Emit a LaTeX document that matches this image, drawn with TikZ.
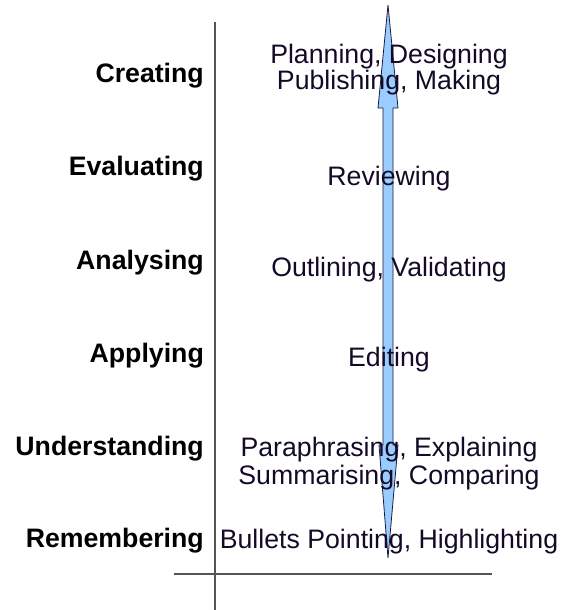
\documentclass[tikz,border=0pt]{standalone}
\usepackage{fontspec}
\setmainfont{Liberation Sans}
\definecolor{arrowfill}{HTML}{99CCFF}
\definecolor{arrowline}{HTML}{1A1A40}
\definecolor{axisline}{HTML}{555555}
\definecolor{txt}{HTML}{140A28}
\begin{document}
\begin{tikzpicture}[x=1pt,y=-1pt,
  level/.style={anchor=base east,inner sep=0pt,font=\fontsize{26.7pt}{26pt}\selectfont\bfseries,text=black},
  act/.style={anchor=base,inner sep=0pt,font=\fontsize{26.7pt}{26pt}\selectfont,text=txt},
  axis/.style={draw=axisline,line width=1.3pt}]
\useasboundingbox (0,0) rectangle (571,610);
% axes
\coordinate (vtop) at (215,22);
\coordinate (vbot) at (215,610);
\coordinate (hl) at (174,574);
\coordinate (hr) at (492,574);
\draw[axis] (vtop) -- (vbot);
\draw[axis] (hl) -- (hr);
% double arrow
\coordinate (ttip) at (388,5);
\coordinate (btip) at (388,558);
\draw[fill=arrowfill,draw=arrowline,line width=0.8pt,line join=miter]
  (ttip) -- (398,108) -- (393,108) -- (393,445) -- (398,445) -- (btip)
  -- (379,445) -- (383,445) -- (383,108) -- (378,108) -- cycle;
% right activity texts
\node[act] (p1) at (389,63.5) {Planning, Designing};
\node[act] (p2) at (389,89.5) {Publishing, Making};
\node[act] (rv) at (389,185) {Reviewing};
\node[act] (ol) at (389,276) {Outlining, Validating};
\node[act] (ed) at (389,366) {Editing};
\node[act] (pa) at (389,456) {Paraphrasing, Explaining};
\node[act] (su) at (389,484) {Summarising, Comparing};
\node[act] (bu) at (389,548) {Bullets Pointing, Highlighting};
% level labels
\node[level] (cr) at (204,82) {Creating};
\node[level] (ev) at (204,175) {Evaluating};
\node[level] (an) at (204,269) {Analysing};
\node[level] (ap) at (204,362) {Applying};
\node[level] (un) at (204,455) {Understanding};
\node[level] (re) at (204,547) {Remembering};
\end{tikzpicture}
\end{document}
